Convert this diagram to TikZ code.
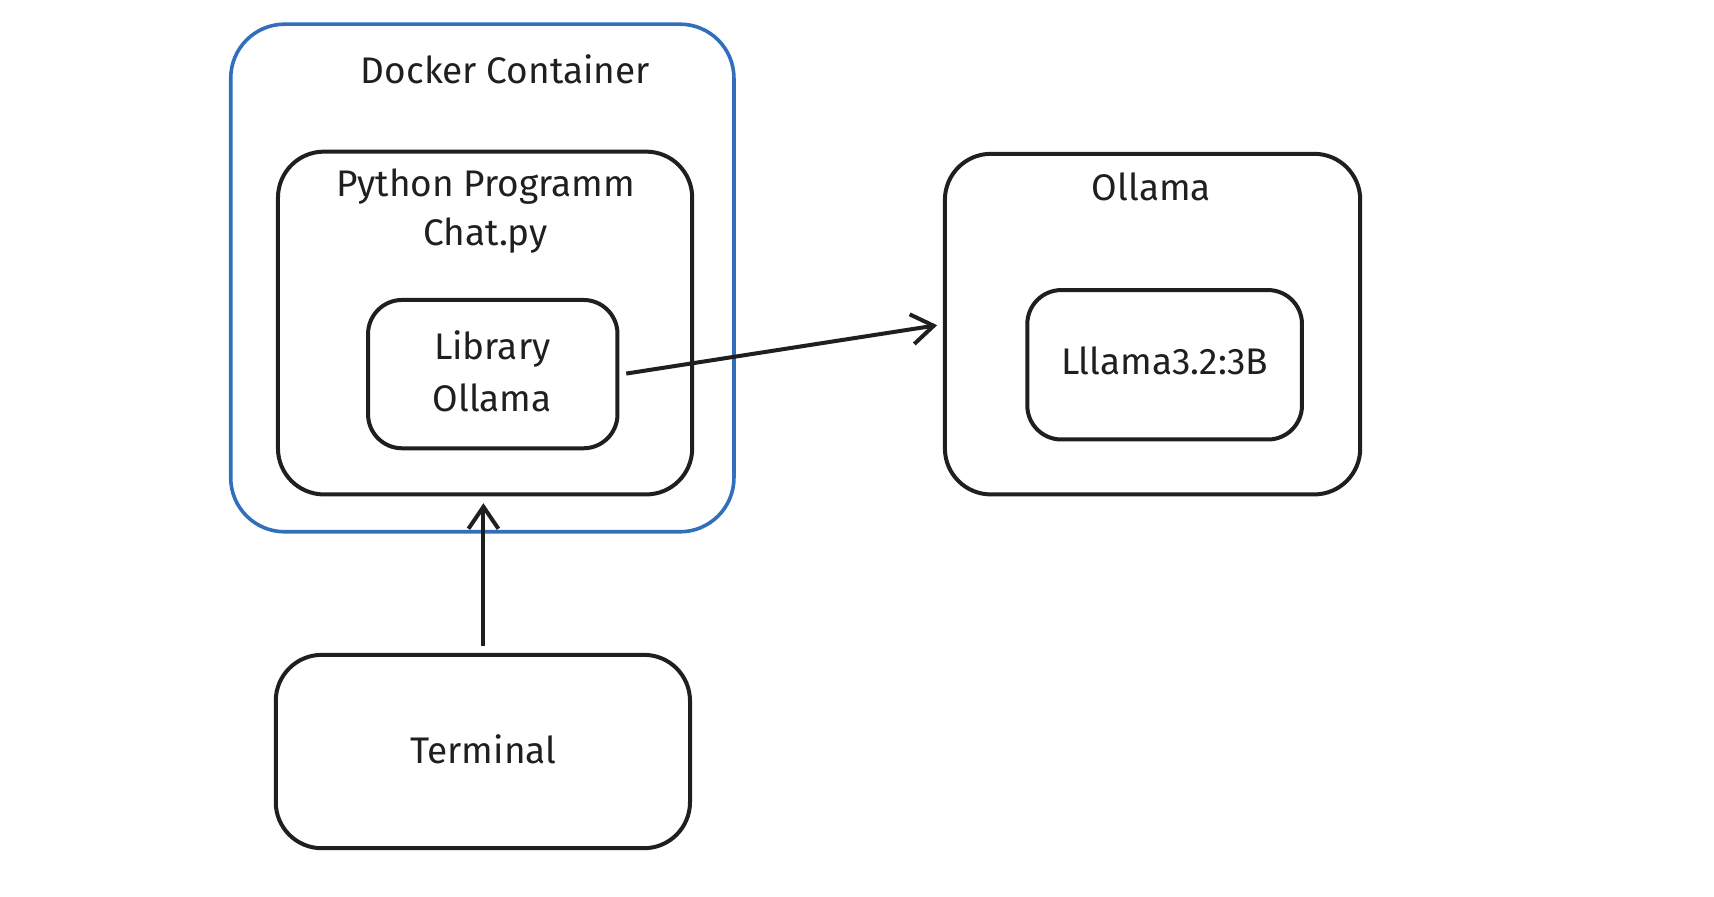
\documentclass[tikz,border=0pt]{standalone}
\usepackage{fontspec}
\setmainfont{Fira Sans}
\usetikzlibrary{arrows.meta}
\begin{document}
\begin{tikzpicture}[x=1.0987pt,y=-1.0987pt,
  box/.style={draw=black!88,line width=4pt,rounded corners=46pt},
  lbl/.style={font=\fontsize{37}{40}\selectfont,text=black!88,inner sep=0pt},
  arr/.style={draw=black!88,line width=4pt,-{Straight Barb[length=22pt,width=30pt,line width=4pt]}}]
\useasboundingbox (0,0) rectangle (1560,815.5);
\draw[box,draw={rgb,255:red,49;green,111;blue,189},line width=3.6pt,rounded corners=54pt] (210,22) rectangle (668,484);
\draw[box] (253,138) rectangle (630,450);
\draw[box,rounded corners=34pt] (335,273) rectangle (562,408);
\draw[box] (860,140) rectangle (1238,450);
\draw[box,rounded corners=34pt] (935,264) rectangle (1185,400);
\draw[box] (251,596) rectangle (628,772);
\node[lbl] (t1) at (460,63) {Docker Container};
\node[lbl] (t2) at (442,170) {Python Programm};
\node[lbl] (t3) at (442,214) {Chat.py};
\node[lbl] (t4) at (448,318) {Library};
\node[lbl] (t5) at (448,362) {Ollama};
\node[lbl] (t6) at (1048,170) {Ollama};
\node[lbl] (t7) at (1060,328) {Lllama3.2:3B};
\node[lbl] (t8) at (440,682) {Terminal};
\coordinate (a1) at (570,340);
\coordinate (b1) at (853,296);
\coordinate (a2) at (440,588);
\coordinate (b2) at (440,458);
\draw[arr] (a1) -- (b1);
\draw[arr] (a2) -- (b2);
\end{tikzpicture}
\end{document}
